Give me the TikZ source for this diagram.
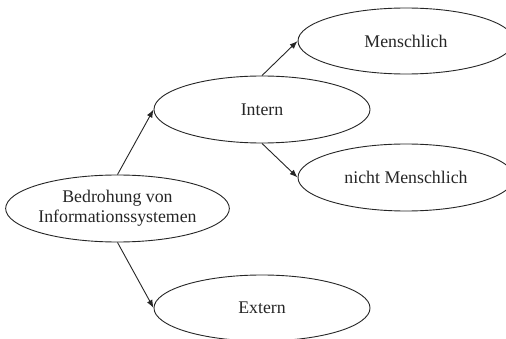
\documentclass[tikz,border=0pt]{standalone}
\usepackage{fontspec}
\setmainfont{Liberation Serif}
\usetikzlibrary{shapes.geometric,arrows.meta}
\begin{document}
\begin{tikzpicture}[x=1pt,y=-1pt,
  ell/.style={ellipse,draw=black!85,line width=0.9pt,minimum width=216pt,minimum height=66pt,inner sep=0pt,align=center,
    font=\fontsize{17.8}{20}\selectfont,text=black!85},
  arr/.style={draw=black!85,line width=0.9pt,-{Latex[length=8pt,width=6pt]}}]
\useasboundingbox (0,0) rectangle (506,339);
\clip (0,0) rectangle (506,339);
\fill[white] (0,0) rectangle (506,339);
\node[ell,minimum width=215pt,minimum height=67pt] (root) at (117.5,208.5) {Bedrohung von\\Informationssystemen};
\node[ell,minimum height=67pt] (intern) at (262,109.5) {Intern};
\node[ell] (mensch) at (406,41) {Menschlich};
\node[ell,minimum height=67pt] (nicht) at (406,177.5) {nicht Menschlich};
\node[ell] (extern) at (262,308) {Extern};
\draw[arr] (root.north) -- (intern.west);
\draw[arr] (root.south) -- (extern.west);
\draw[arr] (intern.north) -- (mensch.west);
\draw[arr] (intern.south) -- (nicht.west);
\end{tikzpicture}
\end{document}
